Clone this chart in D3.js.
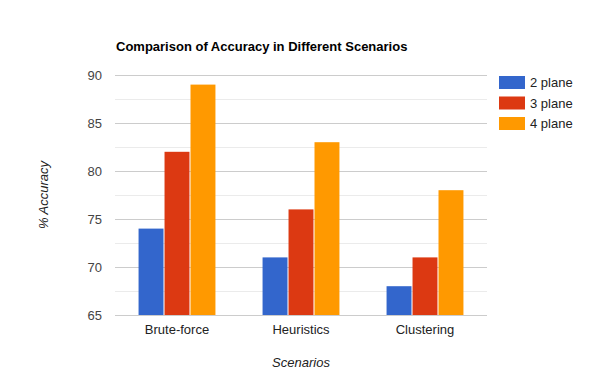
<!DOCTYPE html>
<html><head><meta charset="utf-8">
<script src="https://cdn.jsdelivr.net/npm/d3@7"></script>
<style>body{margin:0;background:#fff}svg{display:block}text{font-family:Arial,"Liberation Sans",sans-serif}</style>
</head><body><svg id="c" width="600" height="390"></svg>
<script>
const categories = ["Brute-force", "Heuristics", "Clustering"];
const seriesNames = ["2 plane", "3 plane", "4 plane"];
const plane2 = [74, 71, 68];
const plane3 = [82, 76, 71];
const plane4 = [89, 83, 78];
const yTicks = [65, 70, 75, 80, 85, 90];
const yMinor = [67.5, 72.5, 77.5, 82.5, 87.5];
const colors = ["#3366cc", "#dc3912", "#ff9900"];
const series = [plane2, plane3, plane4];

const svg = d3.select("#c");
const L = 115, R = 487, T = 75, B = 315;
const x = d3.scaleBand().domain(categories).range([L, R]).paddingInner(0.38).paddingOuter(0.19);
const xs = d3.scaleBand().domain(seriesNames).range([0, x.bandwidth()]).paddingInner(0.04);
const y = d3.scaleLinear().domain([65, 90]).range([B, T]);

svg.append("g").selectAll("line").data(yMinor).join("line")
  .attr("x1", L).attr("x2", R).attr("y1", d => Math.round(y(d)) + 0.5).attr("y2", d => Math.round(y(d)) + 0.5)
  .attr("stroke", "#ebebeb");
svg.append("g").selectAll("line").data(yTicks).join("line")
  .attr("x1", L).attr("x2", R).attr("y1", d => Math.round(y(d)) + 0.5).attr("y2", d => Math.round(y(d)) + 0.5)
  .attr("stroke", "#cccccc");

const g = svg.append("g");
series.forEach((vals, si) => {
  g.append("g").selectAll("rect").data(vals).join("rect")
    .attr("x", (d, i) => x(categories[i]) + xs(seriesNames[si]))
    .attr("width", xs.bandwidth())
    .attr("y", d => y(d))
    .attr("height", d => B - y(d))
    .attr("fill", colors[si]);
});
svg.append("line").attr("x1", L).attr("x2", R).attr("y1", B + 0.5).attr("y2", B + 0.5).attr("stroke", "#cccccc");

svg.append("g").selectAll("text").data(yTicks).join("text")
  .attr("x", 102).attr("y", d => y(d) + 5).attr("text-anchor", "end")
  .attr("font-size", 13).attr("fill", "#444").text(d => d);

svg.append("g").selectAll("text").data(categories).join("text")
  .attr("x", d => x(d) + x.bandwidth() / 2).attr("y", 334).attr("text-anchor", "middle")
  .attr("font-size", 13).attr("fill", "#222").text(d => d);

svg.append("text").attr("x", 116).attr("y", 51).attr("font-size", 13).attr("font-weight", "bold")
  .attr("fill", "#000").text("Comparison of Accuracy in Different Scenarios");

svg.append("text").attr("x", (L + R) / 2).attr("y", 367).attr("text-anchor", "middle")
  .attr("font-size", 13).attr("font-style", "italic").attr("fill", "#222").text("Scenarios");

svg.append("text").attr("transform", "translate(48,195) rotate(-90)").attr("text-anchor", "middle")
  .attr("font-size", 13).attr("font-style", "italic").attr("fill", "#222").text("% Accuracy");

const lg = svg.append("g").selectAll("g").data(seriesNames).join("g")
  .attr("transform", (d, i) => `translate(499,${76 + i * 20.5})`);
lg.append("rect").attr("width", 26).attr("height", 13).attr("fill", (d, i) => colors[i]);
lg.append("text").attr("x", 31).attr("y", 11).attr("font-size", 13).attr("fill", "#222").text(d => d);
</script></body></html>
